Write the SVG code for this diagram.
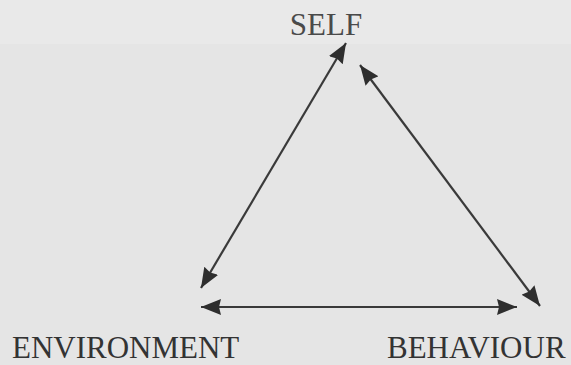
<svg xmlns="http://www.w3.org/2000/svg" width="571" height="365" viewBox="0 0 571 365">
  <defs>
    <marker id="ah" viewBox="0 0 20 16" refX="20" refY="8" markerWidth="20" markerHeight="16" markerUnits="userSpaceOnUse" orient="auto-start-reverse">
      <path d="M0,0 L20,8 L0,16 L2,8 Z" fill="#2e2e2e"/>
    </marker>
    <style>
      .lbl { font-family: "Liberation Serif", "Times New Roman", serif; font-size: 31px; fill: #333; }
      .con { stroke: #3a3a3a; stroke-width: 2.2; fill: none; marker-start: url(#ah); marker-end: url(#ah); }
    </style>
  </defs>
  <rect x="0" y="0" width="571" height="365" fill="#e5e5e5"/>
  <rect x="0" y="0" width="571" height="44" fill="#e9e9e9"/>
  <g id="connectors">
    <line class="con" x1="346" y1="43" x2="201" y2="288"/>
    <line class="con" x1="360" y1="65" x2="540" y2="306"/>
    <line class="con" x1="201" y1="307" x2="517" y2="307"/>
  </g>
  <g id="self">
    <text class="lbl" x="326" y="35" text-anchor="middle" font-size="30" style="fill:#4a4a4a">SELF</text>
  </g>
  <g id="environment">
    <text class="lbl" x="12" y="358">ENVIRONMENT</text>
  </g>
  <g id="behaviour">
    <text class="lbl" x="387" y="358">BEHAVIOUR</text>
  </g>
</svg>
